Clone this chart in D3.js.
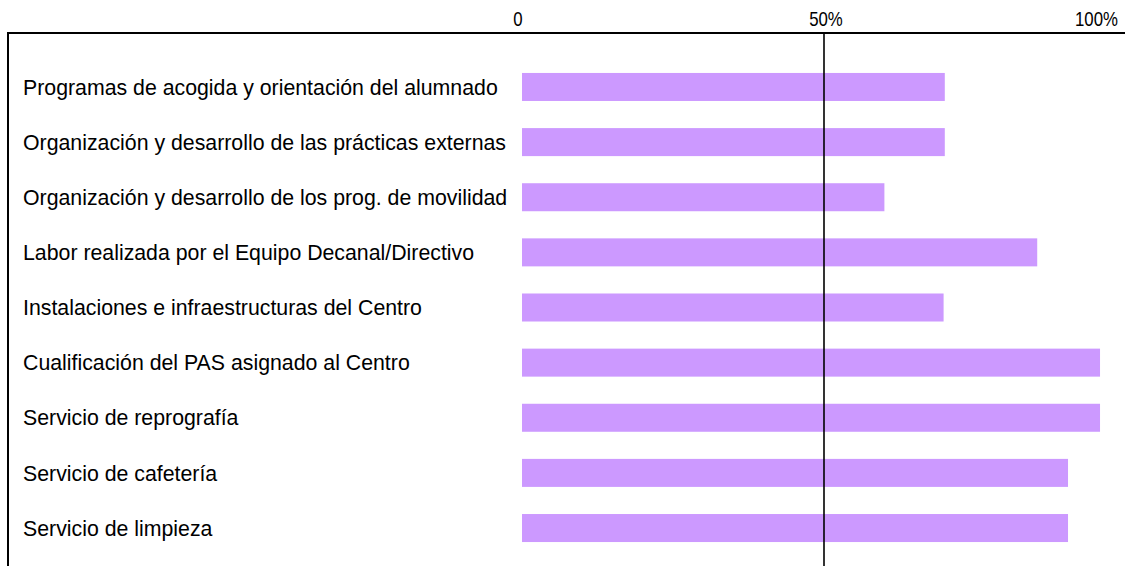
<!DOCTYPE html>
<html lang="es">
<head>
    <meta charset="UTF-8">
    <title>Satisfacción - barras horizontales</title>
    <style>
        body, html {
            margin: 0;
            padding: 0;
            width: 100%;
            height: 100%;
            overflow: hidden;
            background: #fff;
        }
        svg { display: block; }
        text { font-family: Arial, "Liberation Sans", sans-serif; fill: #000; }
    </style>
</head>
<body>
    <script src="https://d3js.org/d3.v7.min.js"></script>
    <script>
        // Data
        var categories = [
            "Programas de acogida y orientación del alumnado",
            "Organización y desarrollo de las prácticas externas",
            "Organización y desarrollo de los prog. de movilidad",
            "Labor realizada por el Equipo Decanal/Directivo",
            "Instalaciones e infraestructuras del Centro",
            "Cualificación del PAS asignado al Centro",
            "Servicio de reprografía",
            "Servicio de cafetería",
            "Servicio de limpieza"
        ];
        var values = [70, 70, 60, 85.3, 69.8, 95.7, 95.7, 90.4, 90.4];
        var tickValues = [0, 50, 100];
        var tickLabels = ["0", "50%", "100%"];

        var width = 1125;
        var height = 566;

        var svg = d3.select("body")
            .append("svg")
            .attr("width", width)
            .attr("height", height);

        // scales
        var x = d3.scaleLinear()
            .domain([0, 100])
            .range([522, 1126]);

        var y = d3.scaleBand()
            .domain(categories)
            .range([59.4, 555.6])
            .paddingInner(0.492)
            .paddingOuter(0.246);

        // frame (runs off the right and bottom of the picture)
        svg.append("path")
            .attr("d", "M8," + (height + 5) + "V33H" + (width + 5))
            .attr("fill", "none")
            .attr("stroke", "#000")
            .attr("stroke-width", 2);

        // bars
        svg.selectAll("rect.bar")
            .data(values)
            .enter()
            .append("rect")
            .attr("class", "bar")
            .attr("x", x(0))
            .attr("y", function(d, i) { return y(categories[i]); })
            .attr("width", function(d) { return x(d) - x(0); })
            .attr("height", y.bandwidth())
            .attr("fill", "#cc99ff");

        // 50% reference line
        svg.append("line")
            .attr("x1", x(50)).attr("x2", x(50))
            .attr("y1", 33).attr("y2", height)
            .attr("stroke", "#000")
            .attr("stroke-width", 1.6);

        // category labels
        svg.selectAll("text.cat")
            .data(categories)
            .enter()
            .append("text")
            .attr("class", "cat")
            .attr("x", 23)
            .attr("y", function(d) { return y(d) + y.bandwidth() / 2; })
            .attr("dy", "0.36em")
            .style("font-size", "21.3px")
            .text(function(d) { return d; });

        // top tick labels (narrow glyphs like the original)
        svg.selectAll("text.tick")
            .data(tickValues)
            .enter()
            .append("text")
            .attr("class", "tick")
            .attr("x", function(d, i) { return i === tickValues.length - 1 ? x(d) - 8 : x(d) - (d === 0 ? 4 : -2); })
            .attr("y", 26)
            .attr("text-anchor", function(d, i) { return i === tickValues.length - 1 ? "end" : "middle"; })
            .style("font-size", "21px")
            .text(function(d, i) { return tickLabels[i]; })
            .each(function() {
                var w = this.getComputedTextLength();
                d3.select(this)
                    .attr("textLength", w * 0.8)
                    .attr("lengthAdjust", "spacingAndGlyphs");
            });
    </script>
</body>
</html>
